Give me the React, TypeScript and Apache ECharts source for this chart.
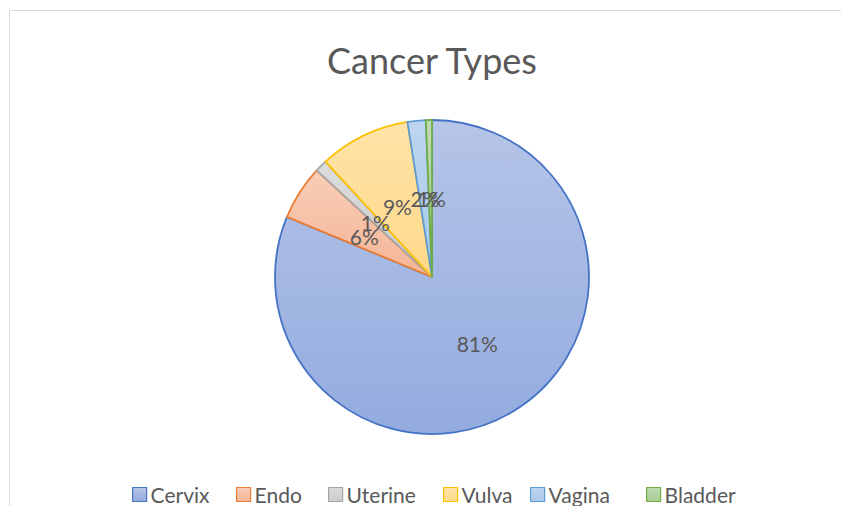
import React, { useEffect, useRef } from "react";
import * as echarts from "echarts";

const categories = ["Cervix", "Endo", "Uterine", "Vulva", "Vagina", "Bladder"];
const counts = [130, 9, 2, 15, 3, 1];
const edgeColors = ["#4472C4", "#ED7D31", "#A5A5A5", "#FFC000", "#5B9BD5", "#70AD47"];
const topColors = ["#B6C5E8", "#F8CDB8", "#DCDCDC", "#FFE3A8", "#BDD5EF", "#BFDAB1"];
const bottomColors = ["#93ABDF", "#F4B595", "#CCCCCC", "#FFD98A", "#A9C9EB", "#A7CD93"];
const titleText = "Cancer Types";

// layout: left edge of each legend entry
const legendLefts = [132, 236, 328, 443, 530, 646];

const FONT = "Lato, 'Open Sans', sans-serif";

function grad(i: number) {
  return new echarts.graphic.LinearGradient(0, 0, 0, 1, [
    { offset: 0, color: topColors[i] },
    { offset: 1, color: bottomColors[i] },
  ]);
}

export default function App() {
  const ref = useRef<HTMLDivElement>(null);
  useEffect(() => {
    if (!ref.current) return;
    const chart = echarts.init(ref.current, undefined, { renderer: "svg" });
    const data = categories.map((name, i) => ({
      name,
      value: counts[i],
      itemStyle: { color: grad(i), borderColor: edgeColors[i], borderWidth: 1.8 },
    }));
    const legends = categories.map((name, i) => ({
      left: legendLefts[i],
      top: 484,
      padding: 0,
      itemWidth: 14,
      itemHeight: 14,
      itemGap: 0,
      icon: "rect",
      selectedMode: false,
      textStyle: {
        fontFamily: FONT,
        fontSize: 21,
        lineHeight: 20,
        color: "#595959",
        padding: [0, 0, 0, -1],
      },
      data: [
        {
          name,
          itemStyle: { color: grad(i), borderColor: edgeColors[i], borderWidth: 1.2 },
        },
      ],
    }));
    chart.setOption({
      animation: false,
      backgroundColor: "#ffffff",
      title: {
        text: titleText,
        left: 432,
        textAlign: "center",
        top: 42,
        padding: 0,
        textStyle: {
          fontFamily: FONT,
          fontSize: 36,
          lineHeight: 36,
          fontWeight: "normal",
          color: "#595959",
        },
      },
      graphic: [
        {
          type: "rect",
          shape: { x: 9.5, y: 10.5, width: 900, height: 600 },
          style: { fill: "none", stroke: "#D9D9D9", lineWidth: 1 },
          silent: true,
          z: -10,
        },
      ],
      legend: legends,
      series: [
        {
          type: "pie",
          center: [432, 277],
          radius: 157,
          startAngle: 90,
          clockwise: true,
          avoidLabelOverlap: false,
          data,
          label: {
            show: true,
            position: "inside",
            formatter: (p: any) => Math.round(p.percent) + "%",
            fontFamily: FONT,
            fontSize: 21,
            color: "#595959",
          },
          labelLayout: (p: any) =>
            p.dataIndex === 0
              ? { hideOverlap: false, dy: -1 }
              : { hideOverlap: false, dx: 1, dy: 3 },
          labelLine: { show: false },
          emphasis: { disabled: true },
        },
      ],
    });
    return () => chart.dispose();
  }, []);
  return (
    <div
      ref={ref}
      style={{ position: "fixed", left: 0, top: 0, width: 841, height: 506, background: "#fff" }}
    />
  );
}
